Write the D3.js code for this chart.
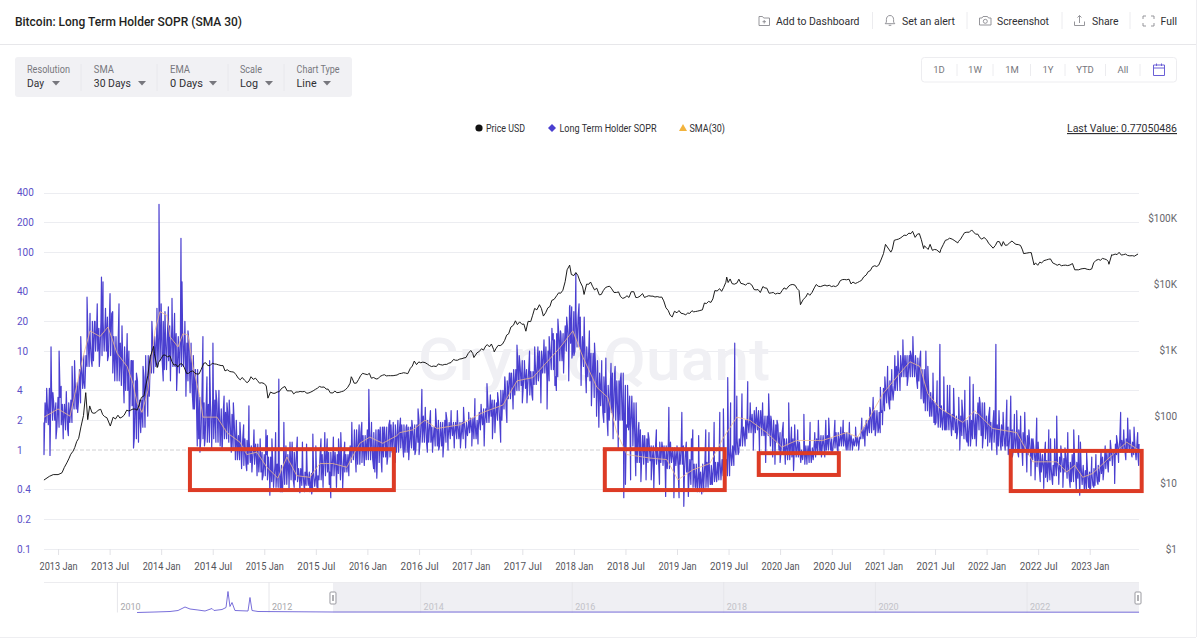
<!DOCTYPE html>
<html>
<head>
<meta charset="utf-8">
<title>Bitcoin: Long Term Holder SOPR (SMA 30)</title>
<script src="https://cdn.jsdelivr.net/npm/d3@7/dist/d3.min.js"></script>
<style>
html,body{margin:0;padding:0;background:#fff;overflow:hidden}
svg{display:block;font-family:Roboto,"Noto Sans",sans-serif}
</style>
</head>
<body>
<svg id="page" width="1200" height="639"></svg>
<script>
// Half-month SOPR ranges, first period starting at 2012.864
const soprStartYear = 2012.864;
const soprLow = [1.9,1.8,2.0,1.7,1.8,1.6,1.9,2.6,3.0,4.2,7,8,10,9,10,9,6,5,4.5,4,2.8,1.3,1.5,1.7,3.5,6,7,8,6.5,8,7,6,7,5,3.8,2.6,1.3,1.3,1.2,1.3,1.2,1.1,1.3,1.2,1.0,.8,.7,.72,.75,.72,.6,.55,.5,.48,.42,.38,.45,.5,.5,.48,.44,.44,.42,.43,.5,.55,.6,.55,.58,.5,.6,.75,.8,.72,.75,.8,.8,.6,.75,.85,.85,.95,.95,1.05,.95,1.05,1.0,1.2,1.2,1.2,1.2,1.1,1.1,1.2,1.3,1.4,1.3,1.3,1.4,1.5,1.3,1.6,1.8,1.9,2.2,2.0,2.0,2.6,3.3,3.6,4.0,4.5,4.2,3.6,4.6,5,6,5.0,6.5,5.5,8,10,12,10,11,7,5.5,5,3.4,2.8,2.4,2.0,2.4,2.0,2.0,1.8,1.6,1.1,.75,.72,.75,.78,.72,.75,.7,.65,.75,.7,.72,.6,.45,.42,.38,.38,.42,.45,.48,.5,.55,.55,.7,.9,1.1,1.3,1.5,1.5,1.6,1.4,1.4,1.1,1.2,1.0,.9,.8,.85,.85,.8,.72,.75,.85,.95,1.0,1.0,1.0,1.05,1.1,1.1,1.0,1.1,1.1,1.3,1.4,1.5,1.6,1.5,2.5,3,3.2,4,5.5,5.5,5.5,5.5,5,3.3,2.5,2.2,1.9,1.7,1.6,1.6,1.6,1.5,1.4,1.3,1.1,1.3,1.6,1.4,1.3,1.2,1.2,1.1,1.1,1.1,1.0,.95,1.0,.95,.9,.8,.68,.6,.53,.5,.55,.6,.6,.52,.48,.52,.45,.4,.42,.44,.48,.58,.65,.78,.9,.95,.95,.95,.9,.85];
const soprHigh = [3.0,4.2,3.0,3.4,2.9,3.0,3.2,4.8,6.5,9,13,20,17,20,22,24,14,12,11,10,8,5,3.2,5.5,9,14,17,20,16,18,15,14,16,12,9,6.5,3.4,3.0,2.9,3.2,3.0,2.6,2.4,2.3,2.0,1.4,1.3,1.25,1.1,1.15,.95,.9,.85,.7,.72,.7,.9,1.2,.95,.65,.6,.6,.58,.55,.9,.95,.95,.95,.9,.85,.9,1.1,1.6,1.5,1.4,1.6,1.5,1.6,1.7,1.7,1.8,1.8,1.7,1.8,1.7,1.7,1.8,2.0,2.2,2.0,1.7,2.0,1.9,2.0,1.9,1.9,1.9,1.9,1.9,2.1,2.0,2.4,2.6,3.0,3.2,3.0,4.0,5.0,6.0,6.5,7.0,8,6.5,6.2,8,10,11,10,13,15,15,18,28,25,22,14,11,9.5,8,6,5.5,4.5,6,5,6,4.5,3.5,3.0,1.6,1.4,1.3,1.1,1.05,1.2,1.1,1.2,1.05,1.0,1.1,1.0,.8,.72,.6,.72,.75,.7,.75,.8,.8,1.0,1.05,1.3,1.7,2.0,2.3,2.5,2.5,2.2,2.2,2.0,1.8,1.5,1.3,1.25,1.3,1.2,1.0,1.1,1.05,1.3,1.4,1.4,1.4,1.3,1.5,1.4,1.5,1.4,1.3,1.35,1.7,2.0,2.5,2.5,2.4,4.2,5,4.5,7,9,9,9,8.5,8.5,6.5,4.5,3.8,3.0,2.8,2.4,2.5,2.3,2.2,2.2,2.0,2.0,2.3,3,3,2.2,1.9,1.8,1.8,1.6,1.7,1.6,1.6,1.5,1.4,1.3,1.05,.95,.9,.78,.7,.75,.85,.82,.75,.8,.75,.7,.62,.6,.65,.7,.85,.95,1.0,1.15,1.25,1.3,1.25,1.2,1.15];
// Isolated daily extremes: [decimal year, SOPR]
const soprSpikes = [[2012.864,.9],[2012.922,.88],[2012.932,11],[2013.01,10],[2013.136,7],[2013.281,35],[2013.31,24],[2013.359,20],[2013.421,56],[2013.436,50],[2013.504,38],[2013.591,30],[2013.717,8],[2013.732,1.05],[2013.824,7],[2013.959,27],[2013.979,304],[2014.037,25],[2014.105,34],[2014.192,138],[2014.202,50],[2014.26,16],[2014.376,.95],[2014.405,14],[2014.444,5.5],[2014.502,12],[2014.531,4],[2014.638,3],[2014.764,1.9],[2014.851,2.8],[2015.016,1.6],[2015.054,.35],[2015.074,1.3],[2015.141,5.2],[2015.19,1.9],[2015.345,.37],[2015.442,.38],[2015.471,1.45],[2015.587,1.5],[2015.645,.33],[2015.742,1.5],[2015.849,1.9],[2015.946,1.9],[2016.014,4.1],[2016.091,.52],[2016.217,2],[2016.295,2],[2016.527,4.1],[2016.731,.85],[2017.157,4.7],[2017.234,1.5],[2017.448,11.5],[2017.545,3],[2017.651,11],[2017.787,17],[2017.816,4.5],[2017.845,21],[2017.961,29],[2017.981,8.5],[2018.019,61],[2018.242,1.7],[2018.31,8.5],[2018.475,2.25],[2018.484,.33],[2018.63,1.9],[2018.775,.39],[2018.921,2.7],[2019.047,2.4],[2019.066,.27],[2019.153,1.6],[2019.24,.36],[2019.279,1.6],[2019.415,2.4],[2019.424,.57],[2019.492,5.4],[2019.56,12],[2019.686,4.9],[2019.889,3.7],[2019.928,.85],[2020.083,3],[2020.141,1.8],[2020.335,1.5],[2020.432,.85],[2020.442,2],[2020.587,1.7],[2020.868,2.7],[2020.955,1.7],[2021.013,5.5],[2021.11,9],[2021.188,13],[2021.285,14],[2021.411,10],[2021.547,11.7],[2021.556,1.9],[2021.585,5.5],[2021.643,4.5],[2021.74,1],[2021.789,4],[2021.837,5.5],[2022.09,11.7],[2022.1,.9],[2022.196,3.2],[2022.234,3.5],[2022.292,2.5],[2022.37,2.4],[2022.486,2.1],[2022.554,.41],[2022.603,1.6],[2022.68,2.2],[2022.787,1.5],[2022.845,1.6],[2022.893,1.4],[2022.903,.35],[2023.0,.38],[2023.242,.46],[2023.3,2.4],[2023.368,2.1],[2023.465,1.5],[2023.475,.7]];
// Smaller daily excursions around the band: [decimal year, SOPR]
const soprMinorMoves = [[2012.89,4.2],[2012.95,3.8],[2012.98,1.3],[2013.03,4.4],[2013.05,1.3],[2013.08,3.9],[2013.10,1.4],[2013.16,8],[2013.19,2.4],[2013.22,14],[2013.25,5],[2013.33,7],[2013.38,30],[2013.40,7],[2013.46,27],[2013.48,8],[2013.53,25],[2013.55,5],[2013.62,18],[2013.64,3],[2013.67,15],[2013.69,2.2],[2013.76,6],[2013.78,1.2],[2013.85,9],[2013.87,2.2],[2013.91,20],[2014.0,30],[2014.02,5],[2014.07,28],[2014.09,5],[2014.13,24],[2014.15,4],[2014.23,20],[2014.24,3.5],[2014.29,12],[2014.31,2.6],[2014.33,6.5],[2014.35,1.1],[2014.42,1.1],[2014.47,8],[2014.49,1.05],[2014.56,4],[2014.59,1.0],[2014.61,3.5],[2014.66,3.2],[2014.68,.95],[2014.70,3],[2014.72,.8],[2014.78,.65],[2014.80,1.8],[2014.83,.62],[2014.88,.6],[2014.90,1.6],[2014.93,.55],[2014.96,1.3],[2014.98,.5],[2015.03,1.4],[2015.09,.42],[2015.11,1.5],[2015.17,.38],[2015.21,1.1],[2015.24,.4],[2015.27,1.2],[2015.29,.42],[2015.32,1.35],[2015.37,1.2],[2015.39,.38],[2015.41,1.15],[2015.46,.36],[2015.50,1.1],[2015.52,.39],[2015.55,1.3],[2015.57,.42],[2015.61,1.3],[2015.63,.45],[2015.67,1.35],[2015.70,.42],[2015.72,1.3],[2015.76,.4],[2015.78,1.2],[2015.82,.55],[2015.87,1.1],[2015.89,.6],[2015.92,1.8],[2015.97,.7],[2016.04,1.9],[2016.06,.65],[2016.11,1.6],[2016.14,.6],[2016.16,1.7],[2016.19,.72],[2016.25,1.9],[2016.27,.75],[2016.32,2.1],[2016.35,.85],[2016.38,1.8],[2016.40,.8],[2016.43,2],[2016.46,.9],[2016.49,2.6],[2016.50,.9],[2016.56,2.7],[2016.58,.95],[2016.61,2.5],[2016.63,.95],[2016.66,2.6],[2016.69,1],[2016.76,2.4],[2016.78,1],[2016.81,2.5],[2016.84,1.05],[2016.87,2.5],[2016.90,1.05],[2016.93,2.7],[2016.95,1.05],[2016.98,2.4],[2017.01,1.1],[2017.04,3.3],[2017.07,1.15],[2017.10,2.9],[2017.13,1.1],[2017.19,3.6],[2017.21,1.3],[2017.26,3.8],[2017.29,1.2],[2017.33,5.5],[2017.35,1.9],[2017.38,6],[2017.41,2.6],[2017.47,9],[2017.50,3],[2017.52,7],[2017.57,10],[2017.60,3.2],[2017.62,11],[2017.68,3.0],[2017.71,13],[2017.74,2.6],[2017.76,14],[2017.80,15],[2017.83,4],[2017.87,16],[2017.90,6],[2017.93,22],[2017.95,5],[2018.0,9],[2018.05,30],[2018.07,4.5],[2018.10,22],[2018.12,3.8],[2018.15,16],[2018.17,2.8],[2018.20,12],[2018.22,2.2],[2018.27,8],[2018.29,1.9],[2018.33,1.4],[2018.36,7.5],[2018.38,1.3],[2018.40,7],[2018.43,1.0],[2018.45,5],[2018.50,.45],[2018.52,1.7],[2018.55,.5],[2018.57,1.6],[2018.60,.55],[2018.65,.48],[2018.67,1.4],[2018.70,.5],[2018.72,1.5],[2018.75,.5],[2018.80,1.6],[2018.83,.45],[2018.86,1.05],[2018.89,.34],[2018.94,1.0],[2018.97,.33],[2019.0,1.1],[2019.02,.33],[2019.09,1.2],[2019.11,.34],[2019.14,1.3],[2019.18,.42],[2019.21,1.4],[2019.26,.45],[2019.31,1.5],[2019.33,.45],[2019.36,1.9],[2019.38,.55],[2019.45,2.6],[2019.47,.75],[2019.52,3],[2019.54,1.1],[2019.58,3.5],[2019.60,.95],[2019.63,3.7],[2019.66,1.1],[2019.71,3],[2019.74,1],[2019.77,2.7],[2019.80,.95],[2019.83,3],[2019.86,.75],[2019.91,2.2],[2019.95,.72],[2019.97,2],[2020.0,.75],[2020.03,1.9],[2020.05,.72],[2020.11,1.7],[2020.13,.62],[2020.17,1.6],[2020.20,.75],[2020.23,2.3],[2020.26,.8],[2020.29,1.9],[2020.32,.8],[2020.37,2],[2020.40,.85],[2020.47,2.1],[2020.50,.95],[2020.53,2.0],[2020.56,.95],[2020.61,2.0],[2020.64,1],[2020.67,1.9],[2020.70,1],[2020.73,1.7],[2020.76,1.0],[2020.79,2.1],[2020.82,1.1],[2020.90,3.4],[2020.92,1.4],[2020.97,4.3],[2020.99,1.8],[2021.04,7],[2021.06,2.6],[2021.08,6.5],[2021.14,10],[2021.16,4],[2021.21,9],[2021.23,4.5],[2021.26,10],[2021.31,9],[2021.33,4.2],[2021.36,10],[2021.39,3],[2021.43,7],[2021.45,2.2],[2021.48,6],[2021.50,1.8],[2021.52,5],[2021.60,1.6],[2021.62,4.5],[2021.66,1.4],[2021.68,4.2],[2021.71,1.3],[2021.73,3.4],[2021.76,3.2],[2021.81,1.2],[2021.85,1.4],[2021.87,4.6],[2021.90,1.1],[2021.93,3.4],[2021.96,1.05],[2021.98,3.0],[2022.01,1.1],[2022.03,2.7],[2022.05,1.0],[2022.07,2.5],[2022.12,2.5],[2022.14,1.0],[2022.16,2.4],[2022.18,1.0],[2022.21,.9],[2022.25,.85],[2022.27,2.3],[2022.31,.85],[2022.33,2.2],[2022.35,.7],[2022.39,.6],[2022.41,1.6],[2022.43,.55],[2022.45,1.3],[2022.47,.5],[2022.50,1.2],[2022.52,.48],[2022.57,1.2],[2022.59,.48],[2022.62,1.3],[2022.64,.45],[2022.66,1.3],[2022.70,.45],[2022.72,1.1],[2022.74,.42],[2022.76,1.05],[2022.81,.42],[2022.83,.9],[2022.87,.4],[2022.91,1.2],[2022.95,.4],[2022.97,.95],[2023.02,.85],[2023.04,.42],[2023.06,.9],[2023.08,.45],[2023.11,1.0],[2023.13,.5],[2023.15,1.1],[2023.18,.6],[2023.2,1.25],[2023.22,.7],[2023.26,1.4],[2023.28,.75],[2023.33,1.6],[2023.35,.8],[2023.39,1.6],[2023.41,.85],[2023.43,1.7],[2023.45,.8]];
// 30-day moving average of SOPR
const smaYears = [2012.864,2013.0,2013.116,2013.242,2013.31,2013.407,2013.484,2013.572,2013.669,2013.727,2013.766,2013.814,2013.872,2013.94,2013.988,2014.056,2014.085,2014.163,2014.211,2014.26,2014.308,2014.376,2014.405,2014.541,2014.638,2014.764,2014.831,2014.928,2015.025,2015.132,2015.219,2015.316,2015.442,2015.539,2015.665,2015.8,2015.926,2016.023,2016.149,2016.285,2016.314,2016.44,2016.556,2016.672,2016.895,2017.118,2017.312,2017.448,2017.603,2017.70,2017.864,2017.99,2018.087,2018.223,2018.329,2018.416,2018.514,2018.736,2018.901,2019.008,2019.153,2019.318,2019.444,2019.58,2019.705,2019.87,2020.016,2020.159,2020.411,2020.643,2020.75,2020.866,2020.994,2021.13,2021.256,2021.353,2021.43,2021.547,2021.769,2021.886,2022.06,2022.292,2022.448,2022.68,2022.777,2022.855,2022.932,2023.029,2023.165,2023.358,2023.475];
const smaValues = [2.15,2.6,2.2,8.7,16,14,17.5,9.5,7,4.7,3,2.4,4,16,25,23,14,11,15,14.5,7,3.4,2.15,2.15,1.5,1.2,.9,.95,.67,.52,.85,.55,.53,.73,.73,.67,1.17,1.35,1.17,1.4,1.5,1.6,2,1.65,1.8,2.4,2.85,5,5.4,7,10.8,16,8.7,4.3,3.4,1.5,.9,.83,.8,.5,.63,.73,1.3,2.15,2,1.5,1.07,1.25,1.25,1.5,1.35,2.15,3.7,5.5,7.8,7,3.7,2.65,1.9,2.5,1.65,1.5,.76,.76,.6,.7,.53,.58,.79,1.2,1.0];
// Bitcoin price, USD: turning points and mid-month closes
const priceDates = ["2012-11-12","2012-12-01","2012-12-15","2013-01-01","2013-01-15","2013-02-01","2013-02-15","2013-03-01","2013-03-15","2013-04-01","2013-04-09","2013-04-16","2013-05-01","2013-05-15","2013-06-01","2013-06-15","2013-07-05","2013-07-15","2013-08-01","2013-08-15","2013-09-01","2013-09-15","2013-10-01","2013-10-15","2013-11-01","2013-11-15","2013-12-01","2013-12-05","2013-12-18","2014-01-01","2014-01-15","2014-02-01","2014-02-15","2014-03-01","2014-03-15","2014-04-01","2014-04-15","2014-05-01","2014-05-15","2014-06-01","2014-06-15","2014-07-01","2014-07-15","2014-08-01","2014-08-15","2014-09-01","2014-09-15","2014-10-01","2014-10-15","2014-11-01","2014-11-15","2014-12-01","2014-12-15","2015-01-01","2015-01-14","2015-02-01","2015-02-15","2015-03-01","2015-03-15","2015-04-01","2015-04-15","2015-05-01","2015-05-15","2015-06-01","2015-06-15","2015-07-01","2015-07-15","2015-08-01","2015-08-15","2015-09-01","2015-09-15","2015-10-01","2015-10-15","2015-11-01","2015-11-05","2015-11-15","2015-12-01","2015-12-15","2016-01-01","2016-01-15","2016-02-01","2016-02-15","2016-03-01","2016-03-15","2016-04-01","2016-04-15","2016-05-01","2016-05-15","2016-06-01","2016-06-15","2016-07-01","2016-07-15","2016-08-01","2016-08-15","2016-09-01","2016-09-15","2016-10-01","2016-10-15","2016-11-01","2016-11-15","2016-12-01","2016-12-15","2017-01-01","2017-01-12","2017-02-01","2017-02-15","2017-03-01","2017-03-15","2017-03-25","2017-04-01","2017-04-15","2017-05-01","2017-05-15","2017-06-01","2017-06-15","2017-07-01","2017-07-15","2017-08-01","2017-08-15","2017-09-01","2017-09-15","2017-10-01","2017-10-15","2017-11-01","2017-11-15","2017-12-01","2017-12-17","2018-01-01","2018-01-15","2018-02-01","2018-02-06","2018-02-15","2018-03-01","2018-03-15","2018-04-01","2018-04-15","2018-05-01","2018-05-15","2018-06-01","2018-06-15","2018-07-01","2018-07-15","2018-08-01","2018-08-15","2018-09-01","2018-09-15","2018-10-01","2018-10-15","2018-11-01","2018-11-15","2018-12-01","2018-12-15","2019-01-01","2019-01-15","2019-02-01","2019-02-15","2019-03-01","2019-03-15","2019-04-01","2019-04-15","2019-05-01","2019-05-15","2019-06-01","2019-06-15","2019-06-26","2019-07-01","2019-07-15","2019-08-01","2019-08-15","2019-09-01","2019-09-15","2019-10-01","2019-10-15","2019-11-01","2019-11-15","2019-12-01","2019-12-15","2020-01-01","2020-01-15","2020-02-01","2020-02-15","2020-03-01","2020-03-13","2020-04-01","2020-04-15","2020-05-01","2020-05-15","2020-06-01","2020-06-15","2020-07-01","2020-07-15","2020-08-01","2020-08-15","2020-09-01","2020-09-15","2020-10-01","2020-10-15","2020-11-01","2020-11-15","2020-12-01","2020-12-15","2021-01-01","2021-01-08","2021-01-27","2021-02-01","2021-02-15","2021-03-01","2021-03-15","2021-04-01","2021-04-14","2021-05-01","2021-05-15","2021-05-25","2021-06-01","2021-06-15","2021-07-01","2021-07-20","2021-08-01","2021-08-15","2021-09-01","2021-09-21","2021-10-01","2021-10-15","2021-11-01","2021-11-09","2021-12-01","2021-12-15","2022-01-01","2022-01-24","2022-02-01","2022-02-15","2022-03-01","2022-03-15","2022-04-01","2022-04-15","2022-05-01","2022-05-12","2022-06-01","2022-06-18","2022-07-01","2022-07-15","2022-08-01","2022-08-15","2022-09-01","2022-09-15","2022-10-01","2022-10-15","2022-11-01","2022-11-09","2022-12-01","2022-12-15","2023-01-01","2023-01-15","2023-02-01","2023-02-15","2023-03-01","2023-03-10","2023-03-20","2023-04-01","2023-04-15","2023-05-01","2023-05-15","2023-06-01","2023-06-21"];
const priceValues = [11,12.5,13.3,13.3,14.2,20,27,34,47,104,230,90,115,115,129,100,72,98,105,98,125,125,130,150,205,420,1000,1150,550,750,850,830,600,560,630,450,480,450,440,640,590,640,620,590,490,480,470,380,390,325,400,380,320,315,190,225,235,260,285,245,220,235,237,225,235,258,285,280,260,228,230,238,255,320,400,320,365,450,430,380,370,405,430,415,415,425,450,455,535,690,670,665,620,570,570,610,615,640,730,710,750,780,1000,780,970,1010,1220,1250,950,1080,1180,1420,1780,2400,2450,2480,1950,2720,4300,4900,3300,4400,5700,6700,7300,10900,19400,13500,13600,9100,7000,10000,10800,8200,6900,8000,9200,8500,7500,6500,6300,6300,7700,6300,7200,6500,6600,6400,6350,5600,4000,3200,3700,3650,3450,3620,3820,3920,4100,5100,5300,8000,8550,8900,12800,10600,10200,10400,10300,9700,10300,8300,8300,9200,8700,7400,7100,7200,8800,9400,9900,8600,4900,6400,6800,8800,9300,9500,9400,9200,9200,11300,11800,11900,10800,10600,11400,13800,16000,19000,19400,29000,40000,30500,33500,47000,49500,55000,59000,63000,57000,47000,38000,36000,40000,33500,30000,40000,47000,48000,42000,48000,60000,61000,66000,57000,48000,47000,35000,38500,44000,44000,39000,45000,40000,38500,29000,30000,19500,19300,21000,23300,24100,20100,20000,19300,19100,20500,16500,17000,17300,16600,21000,23700,24500,23500,20000,28000,28500,30300,28000,27200,27000,28600];
// Closes between those points: month key, then the 8th and the 23rd (null where a turning point sits nearby)
const priceMonths = ["2013-01","2013-02","2013-03","2013-04","2013-05","2013-06","2013-07","2013-08","2013-09","2013-10","2013-11","2013-12","2014-01","2014-02","2014-03","2014-04","2014-05","2014-06","2014-07","2014-08","2014-09","2014-10","2014-11","2014-12","2015-01","2015-02","2015-03","2015-04","2015-05","2015-06","2015-07","2015-08","2015-09","2015-10","2015-11","2015-12","2016-01","2016-02","2016-03","2016-04","2016-05","2016-06","2016-07","2016-08","2016-09","2016-10","2016-11","2016-12","2017-01","2017-02","2017-03","2017-04","2017-05","2017-06","2017-07","2017-08","2017-09","2017-10","2017-11","2017-12","2018-01","2018-02","2018-03","2018-04","2018-05","2018-06","2018-07","2018-08","2018-09","2018-10","2018-11","2018-12","2019-01","2019-02","2019-03","2019-04","2019-05","2019-06","2019-07","2019-08","2019-09","2019-10","2019-11","2019-12","2020-01","2020-02","2020-03","2020-04","2020-05","2020-06","2020-07","2020-08","2020-09","2020-10","2020-11","2020-12","2021-01","2021-02","2021-03","2021-04","2021-05","2021-06","2021-07","2021-08","2021-09","2021-10","2021-11","2021-12","2022-01","2022-02","2022-03","2022-04","2022-05","2022-06","2022-07","2022-08","2022-09","2022-10","2022-11","2022-12","2023-01","2023-02","2023-03","2023-04","2023-05","2023-06"];
const priceOn8th = [13.7,23,42,null,112,107,null,95,122,125,300,900,850,680,620,450,440,650,625,590,475,360,345,350,290,225,275,245,240,228,268,260,243,243,380,415,450,375,412,420,460,580,650,590,625,615,710,770,900,1060,1130,1190,1700,2800,2500,3400,4300,4600,7400,16500,15000,null,9300,7000,9300,7650,6700,6300,6300,6600,6400,3400,4000,3670,3870,5200,6000,7800,12000,11900,10300,8200,8800,7500,8000,9800,8000,7300,9900,9700,9400,11700,10100,11000,15500,18500,null,46000,52000,58000,58000,33500,33000,46000,46000,54000,null,50500,41700,44000,38700,42000,33000,30000,21500,23800,19300,19400,null,17200,17000,23000,22000,28000,28500,26500];
const priceOn23rd = [17,30,70,145,125,96,92,105,130,195,800,660,800,610,560,490,520,590,605,510,430,355,365,325,235,238,245,235,240,245,278,228,232,275,320,440,390,420,415,445,445,610,655,580,600,655,740,900,920,1170,1030,1240,2250,2700,2750,4100,3700,5900,8100,14000,10900,10000,8700,8900,7500,6100,7700,6600,6700,6500,4400,3900,3580,3980,4000,5500,7900,10700,10000,10100,9700,7500,7300,7300,8400,9650,5900,7500,9200,9650,9600,11650,10250,12900,18400,23200,null,48000,54500,51000,34500,32500,33500,49500,44000,61000,57000,50800,null,37500,42000,39700,29500,21000,22700,21000,19000,19500,16500,16800,22900,24000,27500,27500,26800,null];
// Overview strip: full-history SOPR from the start of the chain data
const navYears = [2010.259,2010.496,2010.694,2010.8,2010.892,2010.958,2011.063,2011.156,2011.248,2011.274,2011.38,2011.433,2011.459,2011.485,2011.512,2011.551,2011.723,2011.749,2011.776,2011.855,2012.844,2023.478];
const navValues = [0,25,50,100,275,175,125,75,200,100,150,250,1050,300,500,100,75,750,100,50,25,15];
const navYearLabels = [2010,2012,2014,2016,2018,2020,2022];
// Tick values
const soprTicks = [400,200,100,40,20,10,4,2,1,.4,.2,.1];
const priceTicks = [1,10,100,1000,10000,100000];
const priceTickLabels = ["$1","$10","$100","$1K","$10K","$100K"];
const xTickYears = [2013,2013.5,2014,2014.5,2015,2015.5,2016,2016.5,2017,2017.5,2018,2018.5,2019,2019.5,2020,2020.5,2021,2021.5,2022,2022.5,2023];
// Highlighted SOPR-below-one regimes: [from year, to year, top value, bottom value]
const regimeBoxes = [[2014.279,2016.256,1.02,.394],[2018.30,2019.463,1.02,.394],[2019.793,2020.568,.93,.56],[2022.234,2023.504,.98,.385]];
// Toolbar contents
const controlGroups = [["Resolution","Day"],["SMA","30 Days"],["EMA","0 Days"],["Scale","Log"],["Chart Type","Line"]];
const rangeButtons = ["1D","1W","1M","1Y","YTD","All"];
const headerActions = ["Add to Dashboard","Set an alert","Screenshot","Share","Full"];

const BLUE = "#4a3fd0", TICK_BLUE = "#5b50c8", GRID = "#ecedf1", TEXT = "#2f2f33", MUTED = "#77777d";

const yearToDate = y => {
  const yr = Math.floor(y);
  const a = Date.UTC(yr,0,1), b = Date.UTC(yr+1,0,1);
  return new Date(a + (y-yr)*(b-a));
};
const svg = d3.select("#page");
const plot = {left:44,right:1139,top:192.5,bottom:549};

const x = d3.scaleUtc().domain([yearToDate(2012.864),yearToDate(2023.478)]).range([plot.left,plot.right]);
const ySopr = d3.scaleLog().domain([.1,400]).range([plot.bottom,plot.top]);
const yPrice = d3.scaleLog().domain([1,100000]).range([plot.bottom,218]);

// ---- Page header ----
svg.append("text").attr("x",15).attr("y",25.5).attr("font-size",12.8).attr("font-weight",500).attr("fill","#1f1f22")
  .attr("textLength",227).attr("lengthAdjust","spacingAndGlyphs")
  .text("Bitcoin: Long Term Holder SOPR (SMA 30)");
svg.append("line").attr("x1",0).attr("x2",1196).attr("y1",44.5).attr("y2",44.5).attr("stroke","#e7e7ea");
svg.append("line").attr("x1",1196.5).attr("x2",1196.5).attr("y1",0).attr("y2",637).attr("stroke","#eeeef1");
svg.append("line").attr("x1",0).attr("x2",1196).attr("y1",637.5).attr("y2",637.5).attr("stroke","#eeeef1");

const actionX = [776,902,997,1092,1160.5];
const actionLen = [83.5,53,52,26.5,16.5];
svg.selectAll(".action").data(headerActions).join("text").attr("class","action")
  .attr("x",(d,i)=>actionX[i]).attr("y",25).attr("font-size",11.5).attr("fill",TEXT)
  .attr("textLength",(d,i)=>actionLen[i]).attr("lengthAdjust","spacingAndGlyphs").text(d=>d);
svg.selectAll(".action-sep").data([872.5,967,1062,1130]).join("line").attr("class","action-sep")
  .attr("x1",d=>d).attr("x2",d=>d).attr("y1",12).attr("y2",29).attr("stroke","#ececef");

// Header icons
const icon = svg.append("g").attr("fill","none").attr("stroke","#8a8a90").attr("stroke-width",.9);
icon.append("path").attr("d","M759 16.5h3.5l1.2 1.5h5.8v7.5h-10.5zM764.2 20v3.5M762.5 21.7h3.5");
icon.append("path").attr("d","M890 15.5c-2.5 0-3.6 2-3.6 4v2.6l-1.2 1.6h9.6l-1.2-1.6v-2.600c0-2-1.100-4-3.600-4zM888.700 25.300h2.600");
icon.append("path").attr("d","M979.500 18h2.500l1-1.500h4.500l1 1.500h2.500v7h-11.500z");
icon.append("circle").attr("cx",985.300).attr("cy",21.300).attr("r",2);
icon.append("path").attr("d","M1074.500 21.500v4h10v-4M1079.500 23v-7.500M1077.500 17.500l2-2 2 2");
icon.append("path").attr("d","M1143 19v-3h3M1151 16h3v3M1154 23v3h-3M1146 26h-3v-3");

// ---- Control bar ----
svg.append("rect").attr("x",15).attr("y",57).attr("width",337).attr("height",40).attr("rx",3).attr("fill","#f1f1f4");
const controlX = [27,93.8,170,240,296.6];
const arrowX = [56,142,213,269,327];
const labelLen = [43,20,20,22,43];
const valueLen = [17,37,33,18,20];
const ctrl = svg.selectAll(".ctrl").data(controlGroups).join("g").attr("class","ctrl");
ctrl.append("text").attr("x",(d,i)=>controlX[i]).attr("y",72.500).attr("font-size",10).attr("fill",MUTED)
  .attr("textLength",(d,i)=>labelLen[i]).attr("lengthAdjust","spacingAndGlyphs").text(d=>d[0]);
ctrl.append("text").attr("x",(d,i)=>controlX[i]).attr("y",87).attr("font-size",11.500).attr("fill",TEXT)
  .attr("textLength",(d,i)=>valueLen[i]).attr("lengthAdjust","spacingAndGlyphs").text(d=>d[1]);
ctrl.append("path").attr("fill","#77777d").attr("d",(d,i)=>`M${arrowX[i]-4} 81h8l-4 4.500z`);
svg.selectAll(".ctrl-sep").data([81,157,228,284]).join("line").attr("class","ctrl-sep")
  .attr("x1",d=>d).attr("x2",d=>d).attr("y1",64).attr("y2",91).attr("stroke","#e8e8ec");

// ---- Range buttons ----
svg.append("rect").attr("x",921.500).attr("y",57.500).attr("width",255).attr("height",24.500).attr("rx",3).attr("fill","#fff").attr("stroke","#ededf0");
const rangeX = [939,975,1012,1048,1085,1123];
svg.selectAll(".range").data(rangeButtons).join("text").attr("class","range")
  .attr("x",(d,i)=>rangeX[i]).attr("y",73).attr("text-anchor","middle").attr("font-size",9.500).attr("fill",MUTED).text(d=>d);
svg.selectAll(".range-sep").data([957,993,1030.500,1065,1105.500,1140]).join("line").attr("class","range-sep")
  .attr("x1",d=>d).attr("x2",d=>d).attr("y1",64).attr("y2",76).attr("stroke","#ececef");
svg.append("path").attr("fill","none").attr("stroke","#6a5fd6").attr("stroke-width",1)
  .attr("d","M1153.500 65h11v10.500h-11zM1153.500 68h11M1156.500 63.500v2.500M1161.500 63.500v2.500");

// ---- Legend ----
const legendY = 128;
svg.append("circle").attr("cx",479).attr("cy",legendY).attr("r",3.600).attr("fill","#111");
svg.append("path").attr("fill",BLUE).attr("d",`M552 ${legendY-4}l4 4-4 4-4-4z`);
svg.append("path").attr("fill","#f2b33d").attr("d",`M683 ${legendY-4}l4 7h-8z`);
[["Price USD",486,39],["Long Term Holder SOPR",559.500,97],["SMA(30)",689.500,35.500]].forEach(([t,px,w])=>{
  svg.append("text").attr("x",px).attr("y",legendY+3.500).attr("font-size",10).attr("fill",TEXT)
    .attr("textLength",w).attr("lengthAdjust","spacingAndGlyphs").text(t);
});
svg.append("text").attr("x",1067).attr("y",132).attr("font-size",11.500)
  .attr("textLength",110).attr("lengthAdjust","spacingAndGlyphs")
  .attr("fill",TEXT).attr("text-decoration","underline").text("Last Value: 0.77050486");

// ---- Grid and watermark ----
svg.append("g").selectAll("line").data(soprTicks).join("line")
  .attr("x1",plot.left).attr("x2",plot.right)
  .attr("y1",d=>Math.round(ySopr(d))+.5).attr("y2",d=>Math.round(ySopr(d))+.5)
  .attr("stroke",GRID).attr("stroke-opacity",d=>d===1?0:1);
svg.append("text").attr("x",418).attr("y",380).attr("font-size",60).attr("font-weight",500)
  .attr("textLength",352).attr("lengthAdjust","spacingAndGlyphs").attr("fill","#f0f0f4").text("CryptoQuant");
svg.append("line").attr("x1",plot.left).attr("x2",plot.right).attr("y1",ySopr(1)).attr("y2",ySopr(1))
  .attr("stroke","#c4c4c8").attr("stroke-dasharray","4 2").attr("stroke-width",.8);

// ---- Axes ----
const leftAxis = d3.axisLeft(ySopr).tickValues(soprTicks).tickFormat(d=>String(d)).tickSize(0);
const gLeft = svg.append("g").attr("transform","translate(17,0)").call(leftAxis);
gLeft.select(".domain").remove();
gLeft.selectAll("text").attr("x",0).attr("text-anchor","start").attr("font-size",10).attr("font-family","Roboto").attr("fill",TICK_BLUE);

const rightAxis = d3.axisRight(yPrice).tickValues(priceTicks).tickFormat((d,i)=>priceTickLabels[i]).tickSize(0);
const gRight = svg.append("g").attr("transform","translate(1177,0)").call(rightAxis);
gRight.select(".domain").remove();
gRight.selectAll("text").attr("x",0).attr("text-anchor","end").attr("font-size",10).attr("font-family","Roboto").attr("fill","#66666c");

const bottomAxis = d3.axisBottom(x).tickValues(xTickYears.map(yearToDate)).tickSize(6).tickPadding(8)
  .tickFormat(d=>d3.utcFormat("%Y %b")(new Date(+d+864e5)));
const gBottom = svg.append("g").attr("transform",`translate(0,${plot.bottom})`).call(bottomAxis);
gBottom.select(".domain").remove();
gBottom.selectAll("line").attr("stroke","#e2e2e6");
gBottom.selectAll("text").attr("font-size",10).attr("font-family","Roboto").attr("fill","#55555b")
  .attr("textLength",38).attr("lengthAdjust","spacingAndGlyphs");

// ---- Series ----
// Each half-month range is swept twice so the daily noise reads as a solid band
const soprSeries = [];
soprLow.forEach((lo,i)=>{
  const t = soprStartYear + i/24;
  [0,1].forEach(k=>soprSeries.push([t+k/48,lo],[t+k/48+1/96,soprHigh[i]]));
});
soprSpikes.forEach(s=>soprSeries.push(s));
soprMinorMoves.forEach(s=>soprSeries.push(s));
soprSeries.sort((a,b)=>a[0]-b[0]);

svg.append("path").datum(soprSeries).attr("fill","none").attr("stroke",BLUE).attr("stroke-width",1.200)
  .attr("stroke-linejoin","round")
  .attr("d",d3.line().x(d=>x(yearToDate(d[0]))).y(d=>ySopr(d[1])));

svg.append("path").datum(smaYears.map((t,i)=>[t,smaValues[i]])).attr("fill","none")
  .attr("stroke","#eeb98a").attr("stroke-width",.8)
  .attr("d",d3.line().x(d=>x(yearToDate(d[0]))).y(d=>ySopr(d[1])));

const priceSeries = priceDates.map((t,i)=>[new Date(t),priceValues[i]]);
priceMonths.forEach((m,i)=>{
  if(priceOn8th[i]!==null) priceSeries.push([new Date(m+"-08"),priceOn8th[i]]);
  if(priceOn23rd[i]!==null) priceSeries.push([new Date(m+"-23"),priceOn23rd[i]]);
});
priceSeries.sort((a,b)=>a[0]-b[0]);
svg.append("path").datum(priceSeries).attr("fill","none")
  .attr("stroke","#111").attr("stroke-width",.95)
  .attr("d",d3.line().x(d=>x(d[0])).y(d=>yPrice(d[1])));

// ---- Regime boxes ----
svg.append("g").selectAll("rect").data(regimeBoxes).join("rect")
  .attr("x",d=>x(yearToDate(d[0]))).attr("width",d=>x(yearToDate(d[1]))-x(yearToDate(d[0])))
  .attr("y",d=>ySopr(d[2])).attr("height",d=>ySopr(d[3])-ySopr(d[2]))
  .attr("fill","none").attr("stroke","#dd3b25").attr("stroke-width",4);

// ---- Overview strip ----
const navTop = 582, navBottom = 612.5;
const navX = d3.scaleLinear().domain([2012,2022]).range([269,1027]);
const navY = d3.scaleLinear().domain([0,1500]).range([navBottom,navBottom-30]);
svg.append("rect").attr("x",navX(2012.844)).attr("y",navTop).attr("width",plot.right-navX(2012.844)).attr("height",navBottom-navTop).attr("fill","#efeff3");
svg.append("line").attr("x1",plot.left).attr("x2",plot.right).attr("y1",navTop+.5).attr("y2",navTop+.5).attr("stroke","#ececef");
svg.selectAll(".nav-year").data(navYearLabels).join("line").attr("class","nav-year")
  .attr("x1",d=>navX(d)).attr("x2",d=>navX(d)).attr("y1",navTop).attr("y2",navBottom).attr("stroke","#e6e6ea");
svg.selectAll(".nav-label").data(navYearLabels).join("text").attr("class","nav-label")
  .attr("x",d=>navX(d)+3).attr("y",610).attr("font-size",9).attr("fill",d=>d<2013?"#a8a8ac":"#c2c2c8").text(d=>d);
svg.append("path").datum(navYears.map((t,i)=>[t,navValues[i]])).attr("fill","none")
  .attr("stroke","#6a5fd6").attr("stroke-width",.9)
  .attr("d",d3.line().x(d=>navX(d[0])).y(d=>navY(d[1])));
[navX(2012.844),plot.right-1].forEach(px=>{
  svg.append("rect").attr("x",px-3).attr("y",592).attr("width",6).attr("height",12).attr("rx",1)
    .attr("fill","#fff").attr("stroke","#9a9aa0");
  svg.append("line").attr("x1",px).attr("x2",px).attr("y1",595).attr("y2",601).attr("stroke","#b0b0b4").attr("stroke-width",2);
});
</script>
</body>
</html>
